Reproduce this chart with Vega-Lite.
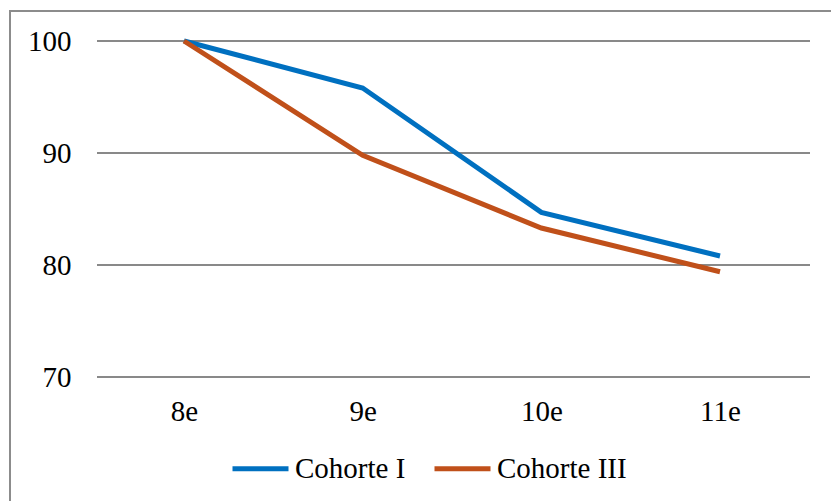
{
  "$schema": "https://vega.github.io/schema/vega-lite/v6.json",
  "width": 830,
  "height": 500,
  "autosize": "none",
  "padding": {"left": 10, "top": 11, "right": 0, "bottom": 0},
  "background": "white",
  "config": {
    "view": {"stroke": "#8c8c8c", "strokeWidth": 2},
    "font": "Liberation Serif, Times New Roman, serif"
  },
  "datasets": {
    "series": [
      {"grade": "8e", "cohort": "Cohorte I", "value": 100},
      {"grade": "9e", "cohort": "Cohorte I", "value": 95.8},
      {"grade": "10e", "cohort": "Cohorte I", "value": 84.7},
      {"grade": "11e", "cohort": "Cohorte I", "value": 80.8},
      {"grade": "8e", "cohort": "Cohorte III", "value": 100},
      {"grade": "9e", "cohort": "Cohorte III", "value": 89.8},
      {"grade": "10e", "cohort": "Cohorte III", "value": 83.3},
      {"grade": "11e", "cohort": "Cohorte III", "value": 79.4}
    ],
    "grid": [{"v": 70}, {"v": 80}, {"v": 90}, {"v": 100}]
  },
  "layer": [
    {
      "data": {"name": "grid"},
      "mark": {"type": "rule", "color": "#898989", "strokeWidth": 2, "xOffset": -87, "x2Offset": 90},
      "encoding": {
        "y": {"field": "v", "type": "quantitative"},
        "x": {"datum": "8e", "type": "ordinal"},
        "x2": {"datum": "11e"}
      }
    },
    {
      "data": {"name": "series"},
      "mark": {"type": "line", "strokeWidth": 5},
      "encoding": {
        "x": {
          "field": "grade",
          "type": "ordinal",
          "sort": ["8e", "9e", "10e", "11e"],
          "scale": {"type": "point", "domain": ["8e", "9e", "10e", "11e"], "range": [174, 710], "padding": 0},
          "axis": {
            "title": null,
            "domain": false,
            "ticks": false,
            "tickSize": 0,
            "labelPadding": 0,
            "offset": -100,
            "labelFontSize": 29,
            "labelColor": "#000000",
            "labelFont": "Liberation Serif, Times New Roman, serif",
            "labelAngle": 0,
            "labelAlign": "center",
            "labelFlush": false,
            "labelOverlap": false
          }
        },
        "y": {
          "field": "value",
          "type": "quantitative",
          "scale": {"domain": [70, 100], "range": [366, 30], "nice": false, "zero": false},
          "axis": {
            "title": null,
            "values": [70, 80, 90, 100],
            "domain": false,
            "ticks": false,
            "tickSize": 0,
            "grid": false,
            "labelPadding": 0,
            "offset": -61,
            "labelFontSize": 29,
            "labelColor": "#000000",
            "labelFont": "Liberation Serif, Times New Roman, serif"
          }
        },
        "color": {
          "field": "cohort",
          "type": "nominal",
          "scale": {"domain": ["Cohorte I", "Cohorte III"], "range": ["#0070C0", "#C0501A"]},
          "legend": {
            "title": null,
            "orient": "none",
            "direction": "horizontal",
            "legendX": 220,
            "legendY": 427,
            "symbolType": "stroke",
            "symbolSize": 3136,
            "symbolStrokeWidth": 5,
            "labelOffset": 4,
            "columnPadding": 18,
            "labelFontSize": 29,
            "labelFont": "Liberation Serif, Times New Roman, serif",
            "labelColor": "#000000",
            "labelLimit": 400
          }
        }
      }
    }
  ]
}
